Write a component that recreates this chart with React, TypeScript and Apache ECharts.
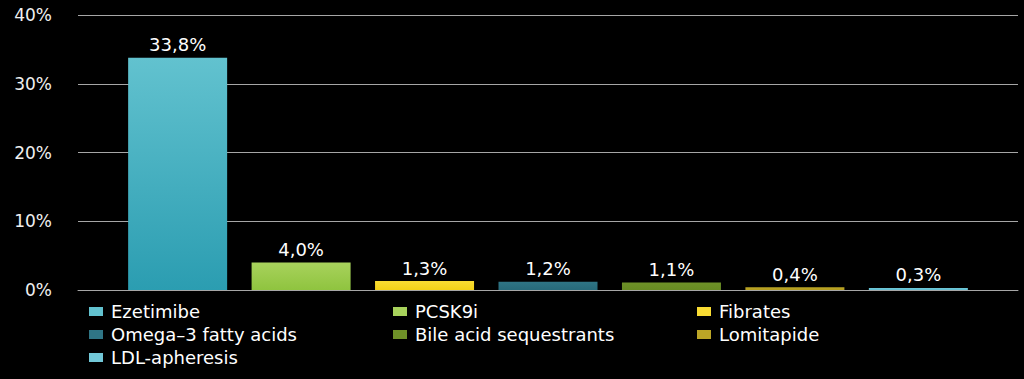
import React, { useEffect, useRef } from "react";
import * as echarts from "echarts";

const categories = [""];
const seriesNames = [
  "Ezetimibe",
  "PCSK9i",
  "Fibrates",
  "Omega\u20133 fatty acids",
  "Bile acid sequestrants",
  "Lomitapide",
  "LDL-apheresis",
];
const seriesValues = [33.8, 4.0, 1.3, 1.2, 1.1, 0.4, 0.3];
const seriesColorsTop = ["#62c2cf", "#a8d25c", "#f9dc33", "#2f7585", "#6e9128", "#bba526", "#72c8d8"];
const seriesColorsBottom = ["#2b9db1", "#8fc43f", "#f3d117", "#276a7a", "#678a22", "#b29c1e", "#5ebfd2"];
const yTicks = [0, 10, 20, 30, 40];

const FONT = "'DejaVu Sans', 'Open Sans', sans-serif";

export default function App() {
  const ref = useRef<HTMLDivElement>(null);
  useEffect(() => {
    if (!ref.current) return;
    const chart = echarts.init(ref.current, null, { renderer: "svg" });
    const series = seriesNames.map((name, i) => ({
      name,
      type: "bar",
      barWidth: 99,
      barGap: "24.7%",
      data: [seriesValues[i]],
      itemStyle: {
        color: new echarts.graphic.LinearGradient(0, 0, 0, 1, [
          { offset: 0, color: seriesColorsTop[i] },
          { offset: 1, color: seriesColorsBottom[i] },
        ]),
      },
      label: {
        show: true,
        position: "top",
        distance: 4,
        color: "#ffffff",
        fontSize: 18,
        fontFamily: FONT,
        formatter: (p: any) => p.value.toFixed(1).replace(".", ",") + "%",
      },
    }));
    chart.setOption({
      animation: false,
      backgroundColor: "#000000",
      grid: { left: 78, right: 6, top: 15, bottom: 89, containLabel: false },
      legend: {
        data: seriesNames.map((n, i) => ({ name: n, itemStyle: { color: seriesColorsTop[i] } })),
        left: 89,
        top: 300,
        width: 930,
        orient: "horizontal",
        icon: "rect",
        itemWidth: 14,
        itemHeight: 9,
        itemGap: 0,
        padding: 0,
        textStyle: {
          color: "#ffffff",
          fontSize: 18,
          fontFamily: FONT,
          width: 282,
          lineHeight: 23,
          padding: [0, 0, 0, 3],
        },
      },
      xAxis: {
        type: "category",
        data: categories,
        axisLine: { show: true, lineStyle: { color: "#a6a6a6", width: 1 } },
        axisTick: { show: false },
        axisLabel: { show: false },
      },
      yAxis: {
        type: "value",
        min: yTicks[0],
        max: yTicks[yTicks.length - 1],
        interval: 10,
        axisLine: { show: false },
        axisTick: { show: false },
        splitLine: { show: true, lineStyle: { color: "#a6a6a6", width: 1 } },
        axisLabel: {
          color: "#f0f0f0",
          fontSize: 17,
          fontFamily: FONT,
          margin: 26,
          formatter: (v: number) => v + "%",
        },
      },
      series,
    });
    return () => chart.dispose();
  }, []);
  return (
    <div
      ref={ref}
      style={{ position: "absolute", left: 0, top: 0, width: 1024, height: 379, background: "#000" }}
    />
  );
}
